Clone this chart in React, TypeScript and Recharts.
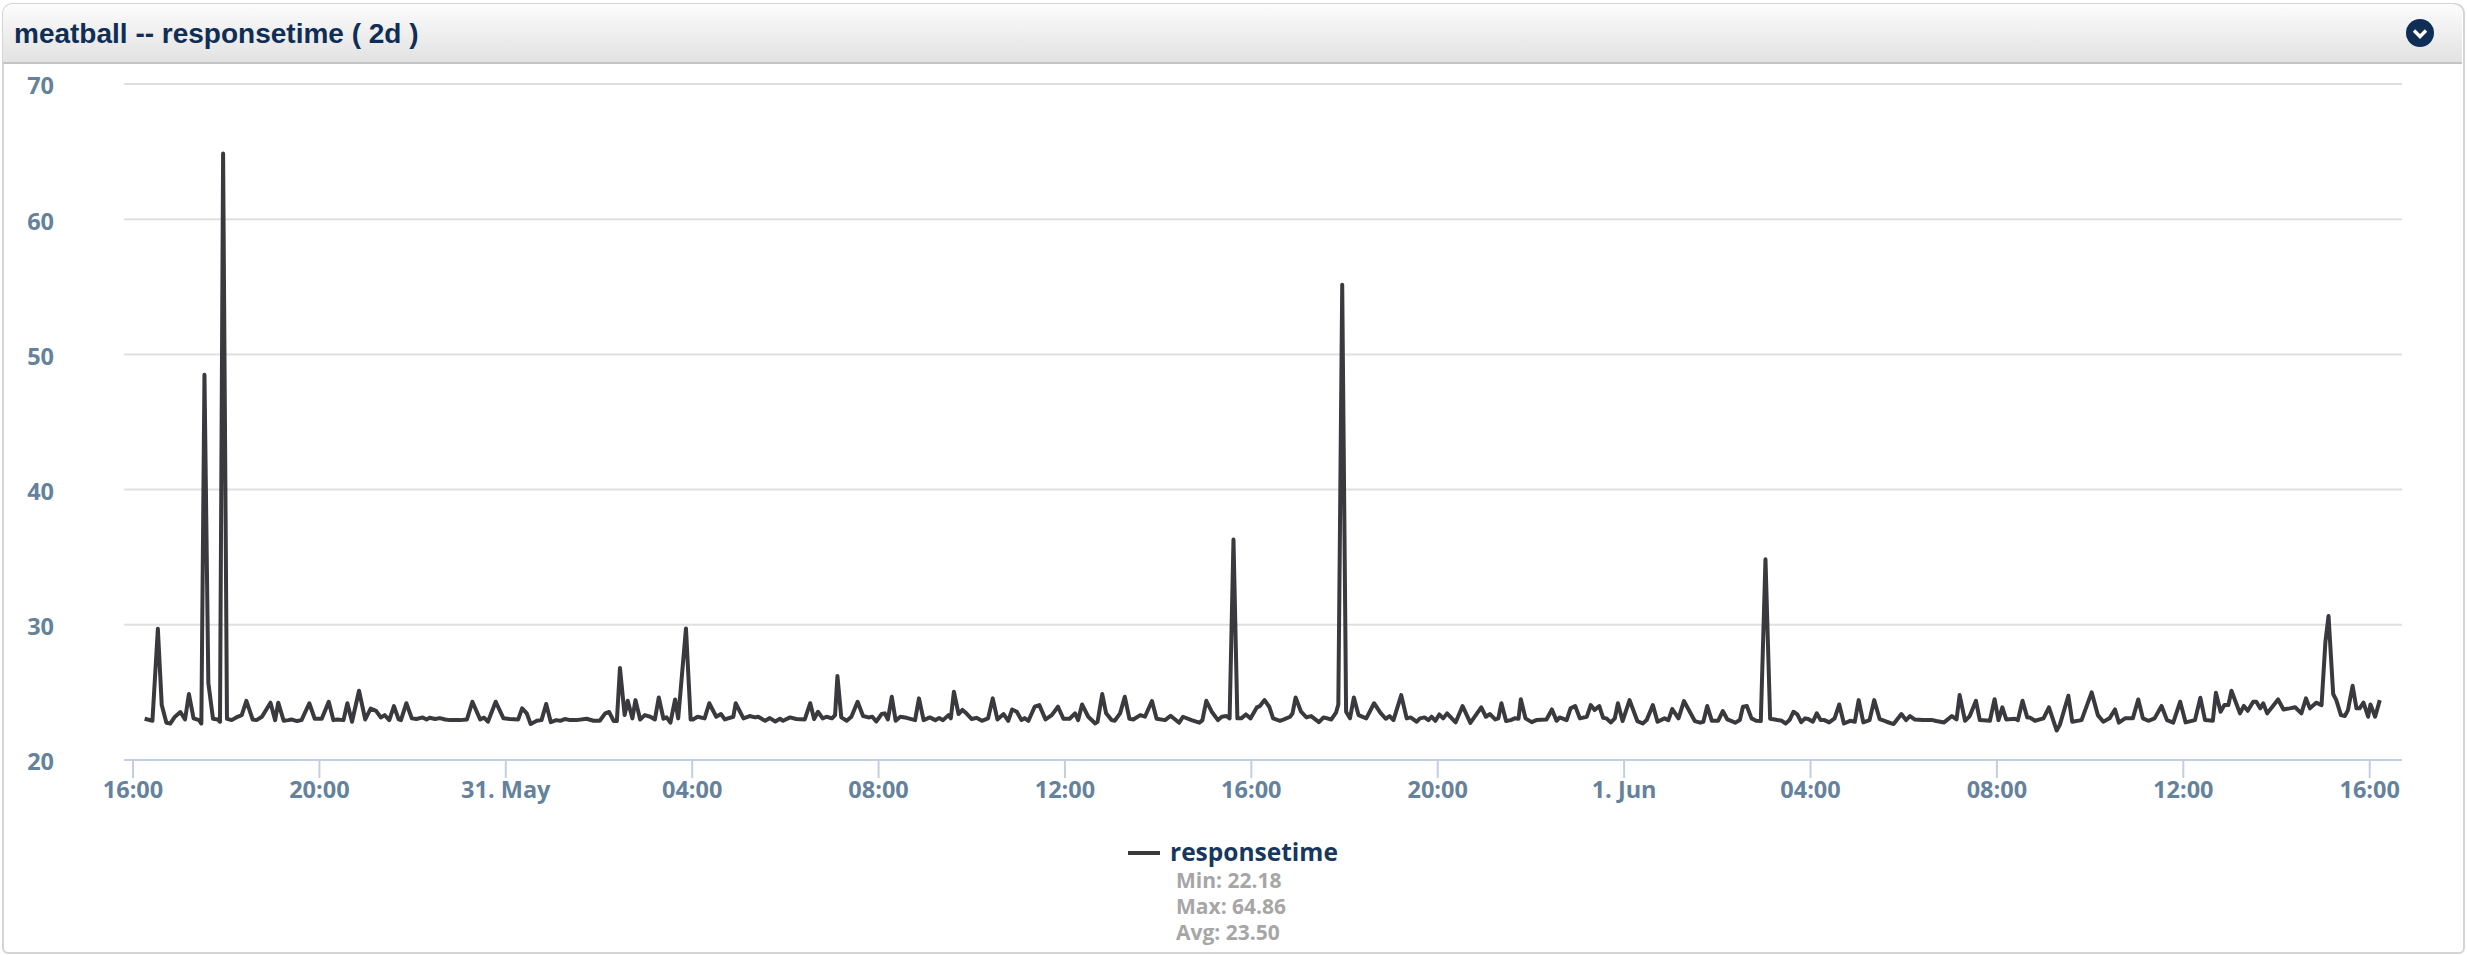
import React from "react";
import { LineChart, Line, XAxis, YAxis, CartesianGrid, Legend } from "recharts";

const seriesName = "responsetime";
const title = "meatball -- responsetime ( 2d )";
const statLines = ["Min: 22.18", "Max: 64.86", "Avg: 23.50"];

// minutes since 30 May 16:00
const tickMinutes = [0, 240, 480, 720, 960, 1200, 1440, 1680, 1920, 2160, 2400, 2640, 2880];
const tickLabels = ["16:00", "20:00", "31. May", "04:00", "08:00", "12:00", "16:00", "20:00", "1. Jun", "04:00", "08:00", "12:00", "16:00"];
const yTicks = [20, 30, 40, 50, 60, 70];

const samples1: number[][] = [
  [15,23.05],[25,22.9],[32,29.7],[37,24.06],[43,22.75],[48,22.7],[54,23.2],[61,23.55],[67,23.0],[72,24.88],[78,23.08],[85,22.95],[88,22.7],[92,48.5],[97,25.7],[103,23.05],[109,23.0],[112,22.83],[116,64.86],[121,23.05],[127,22.95],[133,23.15],[140,23.32],[146,24.38],[154,23.0],[159,22.95],[166,23.2],[177,24.24],[183,22.95],[187,24.24],[194,22.9],[200,22.95],[204,23.0],[211,22.88],[217,22.95],[227,24.2],[234,23.05],[243,23.05],[252,24.3],[258,22.95],[263,23.0],[271,22.95],[276,24.2],[282,22.83],[291,25.12],[299,23.0],[306,23.8],[313,23.64],[319,23.15],[324,23.32],[330,22.95],[336,23.99],[342,23.0],[345,22.95],[352,24.2],[359,23.08],[365,23.03],[373,23.15],[378,23.0],[382,23.12],[389,23.03],[395,23.1],[402,23.0],[408,22.95],
];
const samples2: number[][] = [
  [421,22.95],[430,23.0],[437,24.31],[447,23.0],[452,23.13],[457,22.83],[467,24.31],[477,23.08],[485,23.03],[496,23.0],[501,23.82],[507,23.45],[512,22.66],[520,22.9],[526,22.95],[532,24.14],[538,22.8],[545,22.95],[550,22.9],[556,23.03],[563,22.95],[571,22.95],[584,23.05],[593,22.9],[601,22.9],[608,23.45],[613,23.55],[619,22.88],[623,22.88],[627,26.8],[633,23.32],[637,24.38],[643,23.08],[647,24.43],[653,23.0],[659,23.32],[666,23.2],[672,23.0],[677,24.63],[683,23.05],[687,23.15],[692,22.76],[698,24.48],[702,23.08],[712,29.73],[718,23.0],[721,23.0],[727,23.2],[736,23.08],[742,24.2],[751,23.2],[757,23.4],[762,23.0],[773,23.2],[776,24.2],[786,23.08],[794,23.25],[801,23.15],[805,23.2],[814,22.9],[820,23.1],[827,22.85],
];
const samples3: number[][] = [
  [833,23.05],[837,22.9],[846,23.15],[854,23.03],[865,23.0],[872,24.2],[877,23.03],[882,23.57],[888,23.08],[893,23.2],[900,23.08],[904,23.32],[907,26.21],[912,23.15],[919,22.9],[925,23.2],[933,24.31],[940,23.25],[947,23.15],[952,23.2],[957,22.85],[964,23.4],[968,23.45],[972,23.0],[977,24.68],[982,22.9],[988,23.2],[996,23.12],[1007,22.95],[1012,24.56],[1018,22.95],[1026,23.15],[1033,22.95],[1038,23.1],[1043,22.95],[1050,23.32],[1053,23.08],[1057,25.05],[1063,23.4],[1068,23.7],[1073,23.45],[1080,23.03],[1086,23.12],[1093,22.9],[1101,23.08],[1107,24.56],[1113,23.0],[1121,23.4],[1127,22.9],[1132,23.74],[1138,23.57],[1144,22.95],[1148,23.1],[1153,22.9],[1161,23.94],[1167,24.06],[1175,23.0],[1183,23.32],[1191,23.94],[1198,23.05],[1206,23.05],[1213,23.45],[1217,22.95],[1222,24.11],[1230,23.2],[1239,22.7],[1242,22.83],
];
const samples4: number[][] = [
  [1248,24.88],[1253,23.45],[1260,22.95],[1264,22.9],[1271,23.45],[1277,24.68],[1283,23.05],[1288,23.0],[1297,23.32],[1303,23.2],[1312,24.36],[1318,23.05],[1329,22.95],[1336,23.27],[1347,22.76],[1352,23.2],[1363,22.95],[1373,22.76],[1377,22.95],[1382,24.38],[1389,23.57],[1397,22.95],[1402,23.2],[1408,23.25],[1412,23.08],[1417,36.3],[1422,23.08],[1427,23.08],[1433,23.37],[1439,23.08],[1447,23.89],[1451,23.99],[1457,24.43],[1463,23.94],[1468,23.08],[1477,22.9],[1482,23.0],[1490,23.2],[1493,23.45],[1497,24.63],[1504,23.57],[1511,23.15],[1517,23.25],[1527,22.8],[1533,23.15],[1543,23.0],[1549,23.5],[1552,24.1],[1557,55.15],[1562,23.57],[1567,23.08],[1572,24.63],[1578,23.32],[1588,23.08],[1598,24.2],[1606,23.5],[1613,23.05],[1618,23.25],[1623,22.95],[1633,24.8],[1640,23.08],[1645,23.15],[1653,22.83],
];
const samples5: number[][] = [
  [1657,23.08],[1663,23.15],[1668,22.95],[1672,23.2],[1677,22.9],[1682,23.37],[1687,23.08],[1692,23.45],[1703,22.78],[1712,23.99],[1722,22.75],[1736,23.89],[1742,23.2],[1747,23.4],[1754,23.0],[1758,23.08],[1762,24.2],[1768,22.88],[1774,22.95],[1779,23.08],[1784,23.05],[1787,24.5],[1793,23.08],[1801,22.8],[1807,22.95],[1820,23.0],[1827,23.74],[1833,22.9],[1837,23.15],[1846,22.95],[1851,23.82],[1857,23.99],[1863,23.08],[1872,23.2],[1877,24.06],[1882,23.7],[1888,23.99],[1893,23.12],[1897,23.08],[1903,22.78],[1908,23.08],[1912,24.2],[1918,22.88],[1927,24.43],[1937,22.88],[1944,22.7],[1949,22.95],[1957,24.06],[1963,22.83],[1972,23.08],[1977,22.95],[1982,23.77],[1990,23.08],[1997,24.36],[2011,22.88],[2018,22.76],[2022,22.83],[2027,23.99],[2033,22.9],[2041,22.9],[2047,23.62],[2053,23.0],[2063,22.76],
];
const samples6: number[][] = [
  [2069,22.95],[2073,23.94],[2078,23.99],[2084,23.08],[2090,22.9],[2096,22.88],[2102,34.85],[2108,23.05],[2114,23.0],[2123,22.9],[2128,22.7],[2133,22.95],[2138,23.57],[2143,23.37],[2148,22.8],[2153,23.08],[2157,23.03],[2163,22.83],[2168,23.45],[2173,22.95],[2178,22.95],[2184,22.78],[2191,23.08],[2197,24.11],[2203,22.7],[2211,22.9],[2217,22.83],[2222,24.43],[2228,22.78],[2236,22.95],[2242,24.43],[2249,23.03],[2258,22.83],[2267,22.66],[2277,23.4],[2283,22.95],[2288,23.25],[2294,23.0],[2305,22.95],[2317,22.95],[2322,22.88],[2332,22.78],[2342,23.25],[2348,23.0],[2352,24.8],[2359,22.9],[2365,23.25],[2373,24.38],[2378,22.95],[2391,22.9],[2397,24.5],[2402,22.95],[2407,23.89],[2412,23.0],[2423,23.05],[2427,22.95],[2433,24.38],[2439,23.15],[2442,23.15],[2449,22.9],[2460,23.08],[2467,23.89],[2477,22.18],
];
const samples7: number[][] = [
  [2481,22.6],[2492,24.75],[2497,22.83],[2509,22.95],[2522,25.0],[2530,23.32],[2537,22.83],[2545,23.08],[2552,23.74],[2557,22.76],[2565,23.08],[2575,23.08],[2582,24.48],[2588,23.08],[2595,22.9],[2603,23.08],[2612,24.0],[2619,22.95],[2627,22.76],[2636,24.31],[2643,22.78],[2655,22.95],[2662,24.6],[2668,22.95],[2678,22.9],[2682,24.98],[2688,23.57],[2693,24.06],[2698,24.06],[2702,25.12],[2713,23.45],[2718,24.0],[2723,23.64],[2730,24.31],[2734,24.31],[2739,23.82],[2743,24.19],[2748,23.45],[2762,24.48],[2769,23.74],[2777,23.82],[2784,23.9],[2792,23.45],[2798,24.56],[2803,23.82],[2811,24.24],[2818,24.06],[2823,28.75],[2827,30.65],[2833,24.88],[2837,24.43],[2843,23.32],[2848,23.25],[2852,23.69],[2858,25.49],[2863,23.82],[2867,23.82],[2872,24.24],[2878,23.2],[2881,24.11],[2887,23.2],[2893,24.43],
];

const rows = [...samples1, ...samples2, ...samples3, ...samples4, ...samples5, ...samples6, ...samples7].map(
  ([minute, value]) => ({ minute, [seriesName]: value })
);

const axisFont = "'Open Sans', sans-serif";
const lineColor = "#3a3a3e";

function LegendBox() {
  return (
    <div style={{ position: "relative", width: 2467, height: 120, fontFamily: axisFont, fontWeight: 700 }}>
      <svg width={34} height={6} style={{ position: "absolute", left: 1128, top: 15 }}>
        <line x1={0} y1={3} x2={32} y2={3} stroke={lineColor} strokeWidth={4} />
      </svg>
      <div style={{ position: "absolute", left: 1170, top: 4, fontSize: 24.5, lineHeight: "26px", color: "#17375e", whiteSpace: "nowrap" }}>
        {seriesName}
      </div>
      {statLines.map((s, i) => (
        <div key={s} style={{ position: "absolute", left: 1176, top: 32 + i * 26, fontSize: 21, lineHeight: "26px", color: "#a6a6a6", whiteSpace: "nowrap" }}>
          {s}
        </div>
      ))}
    </div>
  );
}

export default function App() {
  return (
    <div style={{ position: "absolute", left: 0, top: 0, width: 2467, height: 955, background: "#fff", overflow: "hidden" }}>
      <div style={{ position: "absolute", left: 2, top: 3, width: 2459, height: 947, border: "2px solid #d4d4d4", borderRadius: "10px 10px 6px 6px" }} />
      <div style={{
        position: "absolute", left: 3, top: 4, width: 2459, height: 58, borderRadius: "9px 9px 0 0",
        background: "linear-gradient(#fdfcfd, #e2e2e2)", borderBottom: "2px solid #c4c4c4",
      }} />
      <div style={{
        position: "absolute", left: 14, top: 14, fontFamily: "'Liberation Sans', Arial, sans-serif", fontWeight: 700,
        fontSize: 28, lineHeight: "40px", color: "#0f2e56", whiteSpace: "nowrap",
      }}>{title}</div>
      <svg width={30} height={30} style={{ position: "absolute", left: 2405, top: 18 }}>
        <circle cx={15} cy={15} r={14} fill="#0f2e56" />
        <path d="M9 12.5 L15 18.5 L21 12.5" fill="none" stroke="#fff" strokeWidth={3.4} />
      </svg>
      <div style={{ position: "absolute", left: 0, top: 0 }}>
        <LineChart width={2467} height={955} data={rows} margin={{ top: 84, right: 65, left: 0, bottom: 0 }}>
          <CartesianGrid horizontal vertical={false} stroke="#e0e0e0" strokeWidth={2} />
          <XAxis
            dataKey="minute"
            type="number"
            domain={[-11.6, 2921.6]}
            ticks={tickMinutes}
            tickFormatter={(m: number) => tickLabels[tickMinutes.indexOf(m)]}
            height={75}
            interval={0}
            allowDataOverflow
            stroke="#c0d0e0"
            strokeWidth={2}
            tickSize={18}
            tickMargin={3}
            tick={{ fill: "#65829d", fontFamily: axisFont, fontWeight: 700, fontSize: 23.5, stroke: "none" }}
          />
          <YAxis
            type="number"
            domain={[20, 70]}
            ticks={yTicks}
            width={124}
            axisLine={false}
            tickLine={false}
            tickSize={0}
            tickMargin={70}
            tick={{ fill: "#65829d", fontFamily: axisFont, fontWeight: 700, fontSize: 23.5, dy: 2 }}
          />
          <Legend verticalAlign="bottom" height={120} content={() => <LegendBox />} />
          <Line
            dataKey={seriesName}
            type="linear"
            stroke={lineColor}
            strokeWidth={4}
            strokeLinejoin="round"
            dot={false}
            activeDot={false}
            isAnimationActive={false}
          />
        </LineChart>
      </div>
    </div>
  );
}
